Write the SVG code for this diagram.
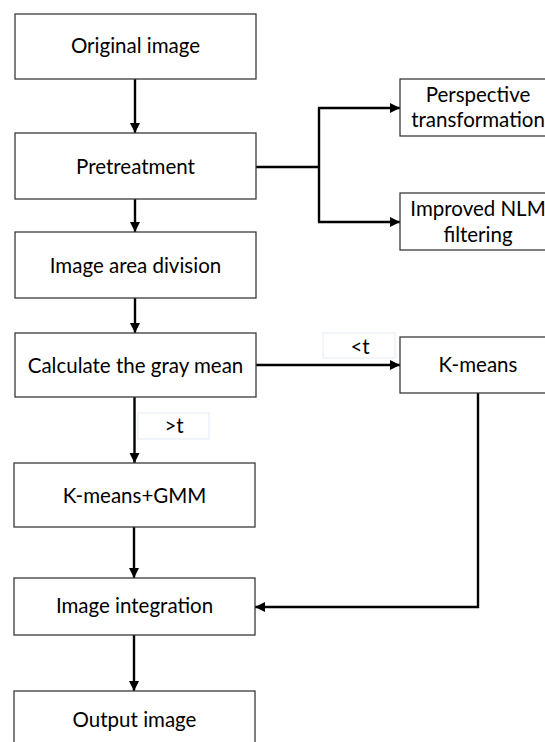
<svg xmlns="http://www.w3.org/2000/svg" width="545" height="742" viewBox="0 0 545 742">
<defs>
<marker id="ah" markerWidth="11" markerHeight="11" refX="10" refY="5.5" orient="auto" markerUnits="userSpaceOnUse">
<path d="M0,0.5 L10,5.5 L0,10.5 Z" fill="#000"/>
</marker>
</defs>
<style>
.box{fill:#fff;stroke:#3a3a3a;stroke-width:1.3}
.lbl{fill:#fff;stroke:#e3e9f1;stroke-width:1}
.t{font-family:Lato,"Liberation Sans",sans-serif;font-size:20.5px;fill:#000;text-anchor:middle}
.c{fill:none;stroke:#000;stroke-width:2.4}
</style>
<rect width="545" height="742" fill="#fff"/>
<g id="connectors">
<line class="c" x1="135" y1="79" x2="135" y2="133" marker-end="url(#ah)"/>
<line class="c" x1="135" y1="199" x2="135" y2="232" marker-end="url(#ah)"/>
<line class="c" x1="135" y1="298" x2="135" y2="333" marker-end="url(#ah)"/>
<line class="c" x1="134.5" y1="397" x2="134.5" y2="463" marker-end="url(#ah)"/>
<line class="c" x1="134" y1="527" x2="134" y2="578" marker-end="url(#ah)"/>
<line class="c" x1="134" y1="635" x2="134" y2="691" marker-end="url(#ah)"/>
<polyline class="c" points="256,167 319,167"/>
<polyline class="c" points="319,108 319,222"/>
<line class="c" x1="318" y1="108" x2="400" y2="108" marker-end="url(#ah)"/>
<line class="c" x1="318" y1="222" x2="400" y2="222" marker-end="url(#ah)"/>
<line class="c" x1="256" y1="365" x2="400" y2="365" marker-end="url(#ah)"/>
<polyline class="c" points="478,393 478,607 255,607" marker-end="url(#ah)"/>
</g>
<g id="label-lt">
<rect class="lbl" x="323" y="333" width="72" height="25"/>
<text class="t" x="360" y="354">&lt;t</text>
</g>
<g id="label-gt">
<rect class="lbl" x="138" y="413" width="71" height="26"/>
<text class="t" x="174" y="433">&gt;t</text>
</g>
<g id="original">
<rect class="box" x="15" y="14" width="241" height="65"/>
<text class="t" x="135.5" y="53">Original image</text>
</g>
<g id="pretreatment">
<rect class="box" x="15" y="133" width="241" height="66"/>
<text class="t" x="135.5" y="174">Pretreatment</text>
</g>
<g id="perspective">
<rect class="box" x="400" y="79" width="156" height="57"/>
<text class="t" x="478" y="102">Perspective</text>
<text class="t" x="478" y="127">transformation</text>
</g>
<g id="nlm">
<rect class="box" x="400" y="193" width="156" height="57"/>
<text class="t" x="478" y="216">Improved NLM</text>
<text class="t" x="478" y="242">filtering</text>
</g>
<g id="division">
<rect class="box" x="15" y="232" width="241" height="66"/>
<text class="t" x="135.5" y="273">Image area division</text>
</g>
<g id="graymean">
<rect class="box" x="15" y="333" width="241" height="64"/>
<text class="t" x="135.5" y="373">Calculate the gray mean</text>
</g>
<g id="kmeans">
<rect class="box" x="400" y="337" width="156" height="56"/>
<text class="t" x="478" y="372">K-means</text>
</g>
<g id="kmeansgmm">
<rect class="box" x="14" y="463" width="241" height="64"/>
<text class="t" x="134.5" y="503">K-means+GMM</text>
</g>
<g id="integration">
<rect class="box" x="14" y="578" width="241" height="57"/>
<text class="t" x="134.5" y="613">Image integration</text>
</g>
<g id="output">
<rect class="box" x="14" y="691" width="241" height="70"/>
<text class="t" x="134.5" y="727">Output image</text>
</g>
</svg>
